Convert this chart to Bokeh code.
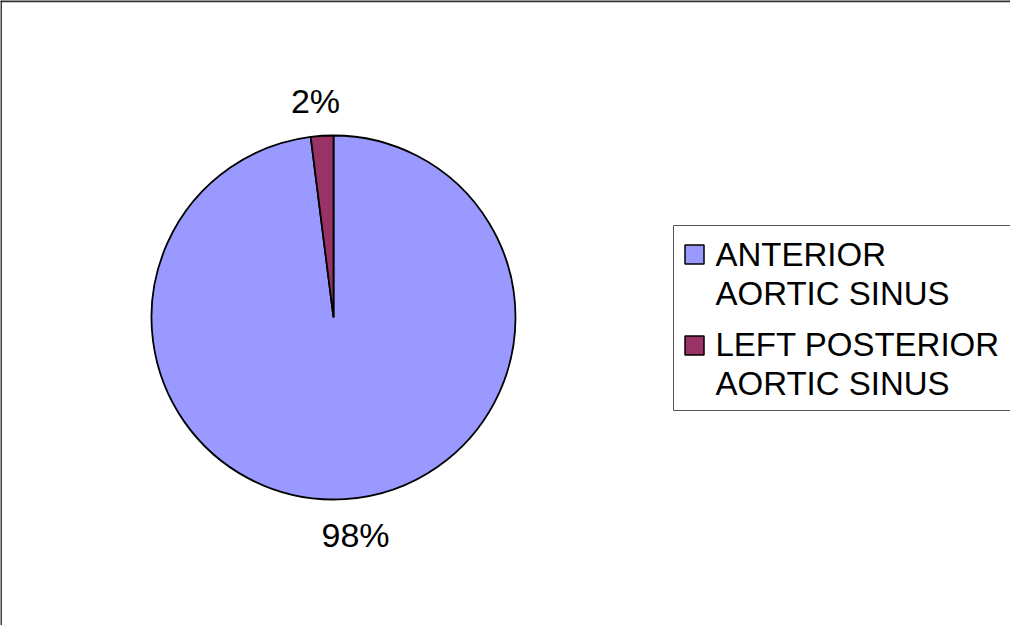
import numpy as np
from bokeh.plotting import figure
from bokeh.models import Range1d
from bokeh.core.properties import value
from bokeh.embed import file_html
from bokeh.resources import INLINE

# Data
categories = ["ANTERIOR AORTIC  SINUS", "LEFT POSTERIOR AORTIC SINUS"]
legend_lines = [["ANTERIOR", "AORTIC  SINUS"], ["LEFT POSTERIOR", "AORTIC SINUS"]]
values = [98, 2]
labels = ["98%", "2%"]
colors = ["#9999FF", "#993366"]

W, H = 1010, 625
p = figure(width=W, height=H, output_backend="svg", toolbar_location=None,
           x_axis_type=None, y_axis_type=None, min_border=0,
           x_range=Range1d(0, W), y_range=Range1d(0, H))
p.outline_line_color = None
p.grid.visible = False
p.background_fill_color = "white"
p.border_fill_color = "white"

def sx(x):  # screen x -> data x
    return x - 8

def sy(y):  # screen y -> data y
    return H + 8 - y

# chart border (top and left visible)
p.segment(x0=[0, 0.5], y0=[H - 0.5, H], x1=[W, 0.5], y1=[H - 0.5, 0],
          line_color=["#333333", "#000000"], line_width=[2.5, 1.5])

# pie
cx, cy, r = sx(341), sy(325), 182
vals = np.array(values, dtype=float)
fr = vals / vals.sum()
# clockwise from 12 o'clock
ends = np.pi / 2 - 2 * np.pi * np.cumsum(fr)
starts = np.concatenate([[np.pi / 2], ends[:-1]])
p.wedge(x=[cx] * len(vals), y=[cy] * len(vals), radius=r,
        start_angle=list(ends), end_angle=list(starts), direction="anticlock",
        fill_color=colors, line_color="black", line_width=1.8)

# data labels
p.text(x=[sx(363), sx(323)], y=[sy(542), sy(108)], text=labels,
       text_font=value("Liberation Sans"), text_font_size="34px",
       text_align="center", text_baseline="alphabetic", text_color="black")

# legend box
p.quad(left=[sx(681)], right=[W + 20], top=[sy(233)], bottom=[sy(418)],
       fill_color="white", line_color="#555555", line_width=1)
sq_y = [262, 353]
p.rect(x=[sx(702)] * 2, y=[sy(v) for v in sq_y], width=19, height=19,
       fill_color=colors, line_color="black", line_width=1.5)
txt, tys = [], []
for lines, base in zip(legend_lines, [262, 352]):
    txt += lines
    tys += [sy(base), sy(base + 39)]
p.text(x=[sx(723)] * len(txt), y=tys, text=txt,
       text_font=value("Liberation Sans"), text_font_size="33px",
       text_align="left", text_baseline="alphabetic", text_color="black")

open("out.html", "w").write(file_html(p, INLINE))
